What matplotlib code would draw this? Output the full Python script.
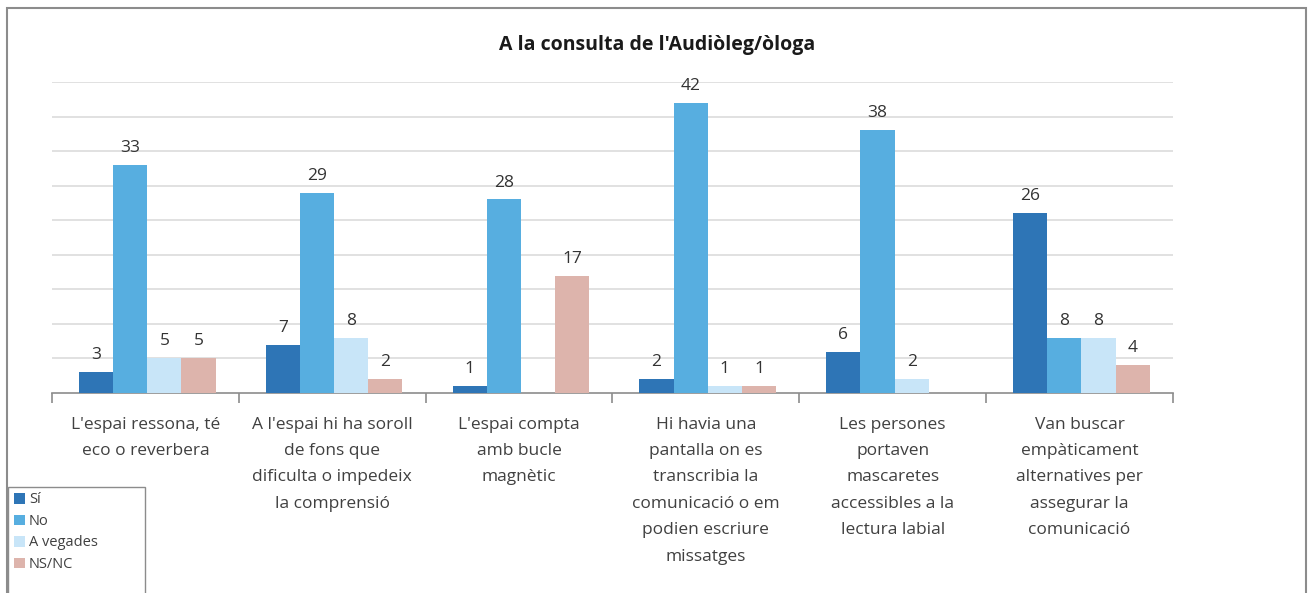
import matplotlib
matplotlib.use("Agg")
import matplotlib.pyplot as plt
from matplotlib.patches import Rectangle
import numpy as np

categories = [
    "L'espai ressona, té\neco o reverbera",
    "A l'espai hi ha soroll\nde fons que\ndificulta o impedeix\nla comprensió",
    "L'espai compta\namb bucle\nmagnètic",
    "Hi havia una\npantalla on es\ntranscribia la\ncomunicació o em\npodien escriure\nmissatges",
    "Les persones\nportaven\nmascaretes\naccessibles a la\nlectura labial",
    "Van buscar\nempàticament\nalternatives per\nassegurar la\ncomunicació",
]
series_names = ["Sí", "No", "A vegades", "NS/NC"]
si = [3, 7, 1, 2, 6, 26]
no = [33, 29, 28, 42, 38, 8]
a_vegades = [5, 8, 0, 1, 2, 8]
ns_nc = [5, 2, 17, 1, 0, 4]
title = "A la consulta de l'Audiòleg/òloga"

colors = ["#2E75B6", "#57AEE0", "#C8E5F8", "#DDB4AC"]
series = [si, no, a_vegades, ns_nc]

W, H = 1308, 593
fig = plt.figure(figsize=(W / 100, H / 100), dpi=100)
fig.patch.set_facecolor("white")

# outer frame
fig.add_artist(Rectangle((7 / W, -0.01), (1306 - 7) / W, (H - 8) / H + 0.01,
                         transform=fig.transFigure, fill=False,
                         edgecolor="#8c8c8c", linewidth=1.5))

left, right, bottom, top = 52 / W, 1173 / W, (H - 393) / H, (H - 82) / H
ax = fig.add_axes([left, bottom, right - left, top - bottom])

x = np.arange(len(categories))
bw = 0.183
offsets = (np.arange(4) - 1.5) * bw
handles = []
for s, vals, c, off in zip(series_names, series, colors, offsets):
    b = ax.bar(x + off + 0.01, vals, width=bw, color=c, label=s, zorder=3)
    handles.append(b)
    for xi, v in zip(x, vals):
        if v > 0:
            ax.text(xi + off + 0.01, v + 1.3, str(v), ha="center", va="bottom",
                    fontsize=12.5, color="#333333", family="Open Sans",
                    zorder=4, clip_on=False)

ax.set_xlim(-0.5, len(categories) - 0.5)
ax.set_ylim(0, 45)
ax.set_yticks(np.arange(5, 46, 5))
ax.yaxis.grid(True, color="#dcdcdc", linewidth=1.2, zorder=0)
ax.tick_params(axis="y", length=0, labelleft=False)
for sp in ["top", "right", "left"]:
    ax.spines[sp].set_visible(False)
ax.spines["bottom"].set_color("#8c8c8c")
ax.spines["bottom"].set_linewidth(1.2)

ax.set_xticks(x)
ax.set_xticklabels(categories, fontsize=12.5, color="#404040", family="Open Sans",
                   linespacing=1.87)
ax.tick_params(axis="x", which="major", length=0, pad=17)
ax.set_xticks(np.arange(-0.5, len(categories), 1.0), minor=True)
ax.tick_params(axis="x", which="minor", length=7, color="#8c8c8c", width=1.2)

fig.text(657 / W, (H - 45) / H, title, ha="center", va="center",
         fontsize=14, fontweight="bold", color="#1a1a1a", family="Open Sans")

# legend box in the lower-left corner
fig.add_artist(Rectangle((8 / W, -0.02), 137 / W, (H - 487) / H + 0.02,
                         transform=fig.transFigure, fill=True,
                         facecolor="white", edgecolor="#8c8c8c",
                         linewidth=1.0, zorder=5))
leg = fig.legend(handles=handles, labels=series_names,
                 loc="upper left", bbox_to_anchor=(10 / W, (H - 488) / H),
                 borderaxespad=0, frameon=False,
                 handlelength=0.75, handleheight=0.75, handletextpad=0.25,
                 labelspacing=0.45, borderpad=0.3,
                 prop={"family": "Open Sans", "size": 10.5})
leg.set_zorder(6)
for t in leg.get_texts():
    t.set_color("#404040")

fig.savefig("out.png", dpi=100, facecolor="white")
